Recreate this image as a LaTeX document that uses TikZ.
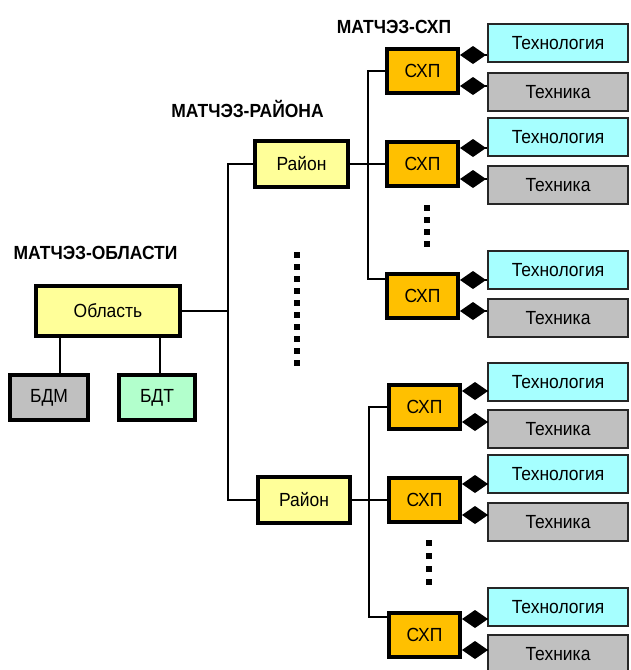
\documentclass[tikz,border=0pt]{standalone}
\usepackage{fontspec}
\setmainfont[FakeStretch=0.92]{Liberation Sans}
\usetikzlibrary{arrows.meta, calc}

\definecolor{paleyellow}{RGB}{255,255,153}
\definecolor{farmorange}{RGB}{255,192,0}
\definecolor{palecyan}{RGB}{166,255,255}
\definecolor{boxgray}{RGB}{192,192,192}
\definecolor{palegreen}{RGB}{178,255,204}

\begin{document}
\begin{tikzpicture}[x=1pt, y=-1pt,
					unit/.style={rectangle, draw, line width=4pt, fill=paleyellow, inner sep=0pt, font=\fontsize{19}{22}\selectfont},
					farm/.style={unit, fill=farmorange, minimum width=71pt, minimum height=44pt},
					base/.style={unit, minimum width=78pt, minimum height=45pt},
					tech/.style={rectangle, draw=black!85, line width=1.5pt, inner sep=0pt, minimum width=140pt, minimum height=38pt, font=\fontsize{19}{22}\selectfont},
					title/.style={font=\bfseries\fontsize{19}{22}\selectfont},
					link/.style={line width=1.5pt},
					comp/.style={line width=1.5pt, -{Diamond[length=26pt, width=18pt]}}
				]
					\useasboundingbox (0,0) rectangle (630,670);
					\clip (0,0) rectangle (630,670);

					% Titles
					\node[title] (tobl) at (95.5,253) {МАТЧЭЗ-ОБЛАСТИ};
					\node[title] (tray) at (247.5,109) {МАТЧЭЗ-РАЙОНА};
					\node[title] (tfarm) at (394,27) {МАТЧЭЗ-СХП};

					% Nodes
					\node[unit, minimum width=144pt, minimum height=50pt] (obl) at (108,311) {Область};
					\node[base, fill=boxgray] (bdm) at (49,397.5) {БДМ};
					\node[base, fill=palegreen, minimum width=76pt] (bdt) at (157,397.5) {БДТ};
					\node[unit, minimum width=93pt, minimum height=46pt] (r1) at (301.5,164) {Район};
					\node[unit, minimum width=92pt, minimum height=46pt] (r2) at (304,500) {Район};

					\node[farm] (s1) at (422.5,71) {СХП};
					\node[farm] (s2) at (422.5,164) {СХП};
					\node[farm] (s3) at (422.5,296) {СХП};
					\node[farm] (s4) at (424.5,407) {СХП};
					\node[farm] (s5) at (424.5,500) {СХП};
					\node[farm] (s6) at (424.5,635) {СХП};

					\node[tech, fill=palecyan] (t1) at (558,43) {Технология};
					\node[tech, fill=boxgray] (k1) at (558,92) {Техника};
					\node[tech, fill=palecyan] (t2) at (558,137) {Технология};
					\node[tech, fill=boxgray] (k2) at (558,185) {Техника};
					\node[tech, fill=palecyan] (t3) at (558,270) {Технология};
					\node[tech, fill=boxgray] (k3) at (558,318) {Техника};
					\node[tech, fill=palecyan] (t4) at (558,382) {Технология};
					\node[tech, fill=boxgray] (k4) at (558,429) {Техника};
					\node[tech, fill=palecyan] (t5) at (558,474) {Технология};
					\node[tech, fill=boxgray] (k5) at (558,522) {Техника};
					\node[tech, fill=palecyan] (t6) at (558,607) {Технология};
					\node[tech, fill=boxgray] (k6) at (558,654) {Техника};

					% Lines
					\draw[link] ([xshift=11pt]bdm.north) -- ([xshift=11pt]bdm.north |- obl.south);
					\draw[link] ([xshift=3pt]bdt.north) -- ([xshift=3pt]bdt.north |- obl.south);
					\draw[link] (r1.west) -- ++(-25,0) coordinate (lb) |- (r2.west);
					\draw[link] (obl.east) -- (obl.east -| lb);

					\draw[link] (s1.west) -- ++(-17,0) |- ([yshift=17pt]s3.west);
					\draw[link] (r1.east) -- (s2.west);
					\draw[link] (s4.west) -- ++(-18,0) |- ([yshift=18pt]s6.west);
					\draw[link] (r2.east) -- (s5.west);

					% Diamonds
					\foreach \s/\t/\k in {s1/t1/k1, s2/t2/k2, s3/t3/k3, s4/t4/k4, s5/t5/k5, s6/t6/k6} {
						\coordinate (u\s) at ($(\s.east)+(0,-16)$);
						\coordinate (d\s) at ($(\s.east)+(0,15)$);
						\draw[comp] (\t.west |- u\s) -- (u\s);
						\draw[comp] (\k.west |- d\s) -- (d\s);
					}

					% Dots
					\foreach \i in {0,...,9} \fill (294,252+12*\i) rectangle ++(6,6);
					\foreach \i in {0,...,3} \fill (424,205+12*\i) rectangle ++(6,6);
					\foreach \i in {0,...,3} \fill (426,540+13*\i) rectangle ++(6,6);
				\end{tikzpicture}
\end{document}
